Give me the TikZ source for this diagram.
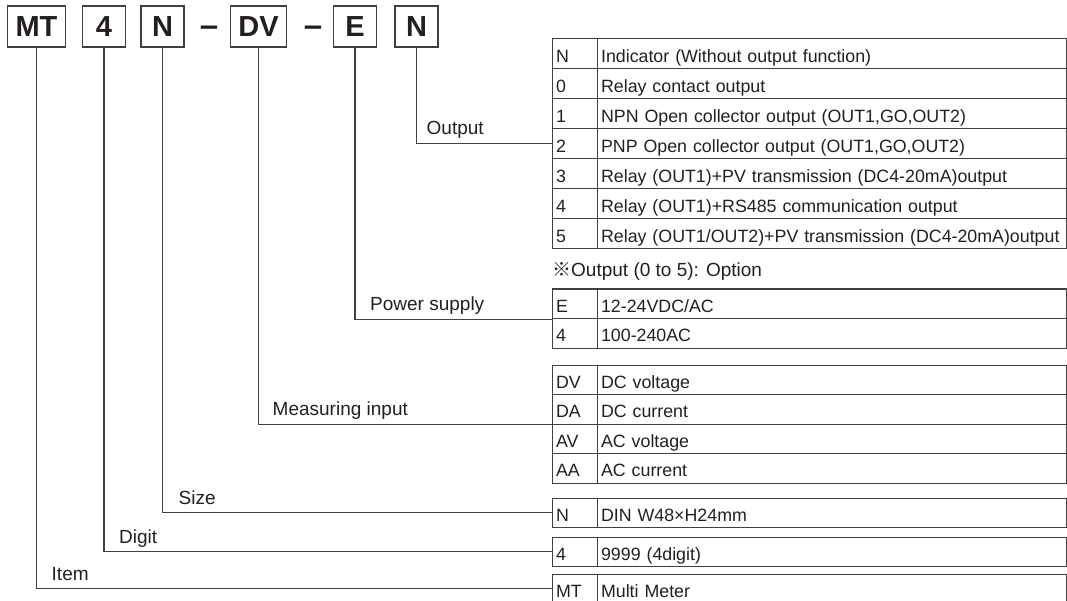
\documentclass[tikz,border=0pt]{standalone}
\usepackage{fontspec}
\setmainfont{Liberation Sans}
\newfontfamily\cjk{Noto Sans CJK JP}
\usetikzlibrary{positioning}

\definecolor{txtcol}{HTML}{231F20}
\definecolor{linecol}{HTML}{404040}

\begin{document}
\begin{tikzpicture}[x=1pt, y=-1pt,
  topbox/.style={draw=linecol, line width=1.4pt, text=txtcol,
    font=\bfseries\fontsize{29}{29}\selectfont,
    minimum width=43pt, minimum height=41pt, inner xsep=8pt},
  dashsign/.style={text=txtcol, font=\bfseries\fontsize{33}{33}\selectfont, inner sep=0pt},
  codecell/.style={draw=linecol, line width=1.1pt, text=txtcol,
    font=\fontsize{17.8}{20}\selectfont, text width=38pt, inner xsep=3.5pt,
    inner ysep=0pt, text height=20pt, text depth=3pt, align=left},
  desccell/.style={codecell, text width=461.5pt},
  lbl/.style={text=txtcol, font=\fontsize{19}{22}\selectfont, inner sep=0pt,
    text height=13.5pt, text depth=4pt},
  notelbl/.style={text=txtcol, font=\fontsize{19}{22}\selectfont, inner sep=0pt},
  conn/.style={draw=linecol, line width=1.1pt}]

  \useasboundingbox (0,0) rectangle (1067,601);

  % --- Hilfsmakro: \specrow{Name}{Oberkante}{Hoehe}{Code}{Text} ---
  \newcommand{\specrow}[5]{%
    \node[codecell, minimum height=#3, anchor=north west] (#1c) at (552,#2) {#4};
    \node[desccell, minimum height=#3, anchor=north west] (#1d) at (597,#2) {#5};
  }

  % --- Typenschluessel oben ---
  \node[topbox] (bMT) at (36.5,26.5) {MT};
  \node[topbox] (bDig) at (104,26.5) {4};
  \node[topbox] (bSize) at (162.5,26.5) {N};
  \node[dashsign, anchor=base] (dash1) at (209,36.5) {–};
  \node[topbox] (bMsr) at (258.5,26.5) {DV};
  \node[dashsign, anchor=base] (dash2) at (313,36.5) {–};
  \node[topbox] (bPwr) at (355,26.5) {E};
  \node[topbox] (bOut) at (416.5,26.5) {N};

  % --- Output (7 Zeilen) ---
  \specrow{out1}{38}{30pt}{N}{Indicator (Without output function)}
  \specrow{out2}{68}{30pt}{0}{Relay contact output}
  \specrow{out3}{98}{30pt}{1}{NPN Open collector output (OUT1,GO,OUT2)}
  \specrow{out4}{128}{30pt}{2}{PNP Open collector output (OUT1,GO,OUT2)}
  \specrow{out5}{158}{30pt}{3}{Relay (OUT1)+PV transmission (DC4-20mA)output}
  \specrow{out6}{188}{30pt}{4}{Relay (OUT1)+RS485 communication output}
  \specrow{out7}{218}{30pt}{5}{Relay (OUT1/OUT2)+PV transmission (DC4-20mA)output}
  \node[notelbl, anchor=base west] (note) at (552,277) {{\cjk ※}Output (0 to 5): Option};

  % --- Power supply (2 Zeilen) ---
  \specrow{pwr1}{288.5}{29.5pt}{E}{12-24VDC/AC}
  \specrow{pwr2}{318}{29.5pt}{4}{100-240AC}

  % --- Measuring input (4 Zeilen) ---
  \specrow{msr1}{364.5}{29.5pt}{DV}{DC voltage}
  \specrow{msr2}{394}{29.5pt}{DA}{DC current}
  \specrow{msr3}{423.5}{29.5pt}{AV}{AC voltage}
  \specrow{msr4}{453}{29.5pt}{AA}{AC current}

  % --- Size, Digit, Item ---
  \specrow{size1}{497.5}{29.5pt}{N}{DIN W48×H24mm}
  \specrow{dig1}{536.5}{29.5pt}{4}{9999 (4digit)}
  \specrow{item1}{573.5}{29.5pt}{MT}{Multi Meter}

  % --- Verbindungslinien (Ecke als Koordinate fuer die Beschriftung) ---
  \draw[conn] (bOut.south) |- coordinate[pos=.5] (cOut) (out4c.west);
  \draw[conn] (bPwr.south) |- coordinate[pos=.5] (cPwr) (pwr1c.south west);
  \draw[conn] (bMsr.south) |- coordinate[pos=.5] (cMsr) (msr2c.south west);
  \draw[conn] (bSize.south) |- coordinate[pos=.5] (cSize) (size1c.west);
  \draw[conn] (bDig.south) |- coordinate[pos=.5] (cDig) (dig1c.west);
  \draw[conn] (bMT.south) |- coordinate[pos=.5] (cItem) (item1c.west);

  % --- Beschriftungen ---
  \node[lbl, above right=4.5pt and 10pt of cOut] (lOut) {Output};
  \node[lbl, above right=4.5pt and 15pt of cPwr] (lPwr) {Power supply};
  \node[lbl, above right=4.5pt and 14pt of cMsr] (lMsr) {Measuring input};
  \node[lbl, above right=4.5pt and 16pt of cSize] (lSize) {Size};
  \node[lbl, above right=4.5pt and 15pt of cDig] (lDig) {Digit};
  \node[lbl, above right=4.5pt and 15pt of cItem] (lItem) {Item};

\end{tikzpicture}
\end{document}
